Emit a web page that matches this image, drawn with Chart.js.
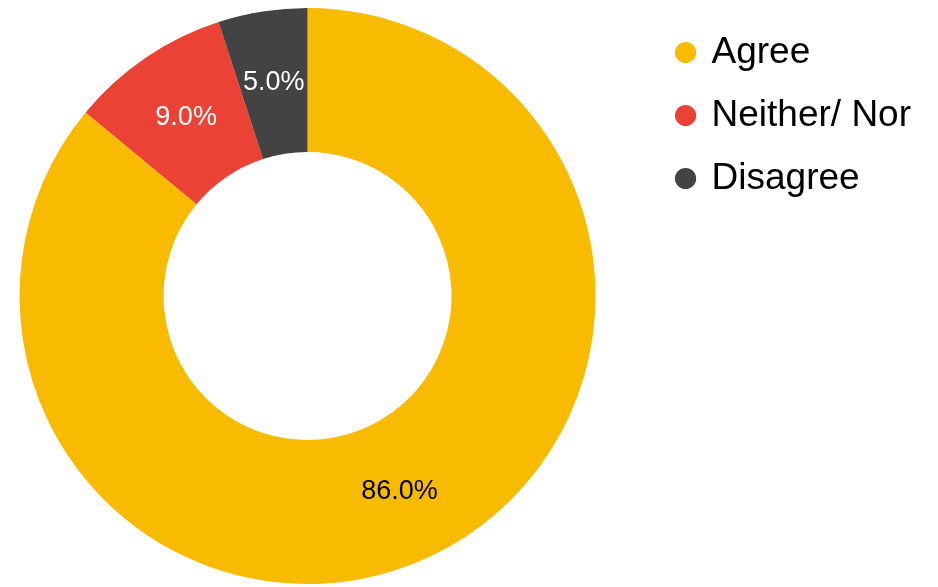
<!DOCTYPE html>
<html>
<head>
<meta charset="utf-8">
<script src="https://cdn.jsdelivr.net/npm/chart.js@4"></script>
<style>
  html, body { margin: 0; padding: 0; background: #fff; overflow: hidden; }
  #wrap { width: 958px; height: 587px; margin-left: -37px; }
</style>
</head>
<body>
<div id="wrap"><canvas id="donutChart"></canvas></div>
<script>
const labels = ['Agree', 'Neither/ Nor', 'Disagree'];
const values = [86.0, 9.0, 5.0];
const colors = ['#F9BB00', '#EA4335', '#434343'];
const labelColors = ['#000000', '#ffffff', '#ffffff'];

// percentage text on each slice
const sliceLabels = {
    id: 'sliceLabels',
    afterDatasetsDraw(chart) {
        const ctx = chart.ctx;
        const meta = chart.getDatasetMeta(0);
        const total = values.reduce((a, b) => a + b, 0);
        ctx.save();
        ctx.font = '27px "Liberation Sans", Arial, sans-serif';
        ctx.textAlign = 'center';
        ctx.textBaseline = 'middle';
        meta.data.forEach((arc, i) => {
            const pos = arc.tooltipPosition();
            ctx.fillStyle = labelColors[i];
            ctx.fillText((values[i] / total * 100).toFixed(1) + '%', pos.x, pos.y);
        });
        ctx.restore();
    }
};

const ctx = document.getElementById('donutChart').getContext('2d');
new Chart(ctx, {
    type: 'doughnut',
    data: {
        labels: labels,
        datasets: [{
            data: values,
            backgroundColor: colors,
            borderWidth: 0
        }]
    },
    options: {
        responsive: true,
        maintainAspectRatio: false,
        animation: false,
        cutout: '50%',
        layout: { padding: { left: 0, top: 8, right: 0, bottom: 3 } },
        plugins: {
            legend: {
                position: 'right',
                align: 'start',
                labels: {
                    usePointStyle: true,
                    pointStyle: 'circle',
                    boxWidth: 15,
                    boxHeight: 15,
                    padding: 26,
                    color: '#000',
                    font: { size: 37, family: '"Liberation Sans", Arial, sans-serif' }
                }
            },
            tooltip: { enabled: false }
        }
    },
    plugins: [sliceLabels]
});
</script>
</body>
</html>
